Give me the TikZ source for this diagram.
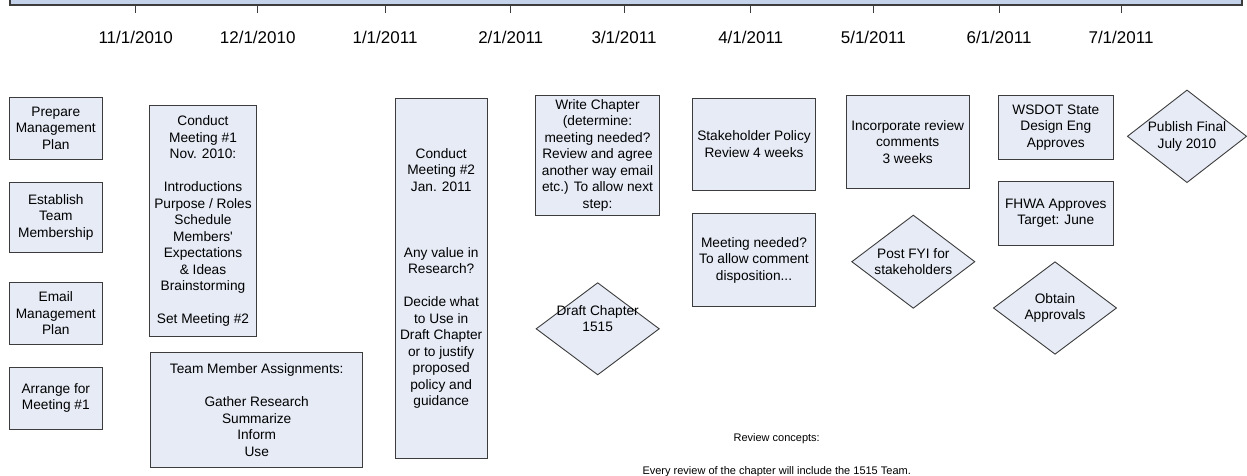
\documentclass[tikz,border=0pt]{standalone}
\usepackage{fontspec}
\setmainfont{Liberation Sans}
\usetikzlibrary{shapes.geometric}
\definecolor{boxfill}{RGB}{230,235,246}
\definecolor{boxline}{RGB}{60,60,60}
\definecolor{barside}{RGB}{196,211,233}
\definecolor{barmid}{RGB}{239,241,235}

\begin{document}
\begin{tikzpicture}[x=1pt,y=-1pt,
    task/.style={draw=boxline, line width=0.9pt, fill=boxfill, inner sep=0pt, align=center,
      font=\fontsize{13.7}{16.5}\selectfont},
    gate/.style={diamond, draw=boxline, line width=0.9pt, fill=boxfill, inner sep=0pt,
      minimum width=123.3, minimum height=92.6},
    gatetext/.style={align=center, font=\fontsize{13.7}{16.5}\selectfont},
    note/.style={anchor=base, font=\fontsize{11}{13}\selectfont}]
        \useasboundingbox (0,0) rectangle (1247,475);
        % timeline
        \draw[draw=boxline, line width=1.2pt, left color=barside, middle color=barmid, right color=barside] (10,-20) rectangle (1242,5);
        \foreach \x/\m/\y in {135.7/11/2010, 257.7/12/2010, 385/1/2011, 510.7/2/2011, 624/3/2011,
            750.7/4/2011, 873.3/5/2011, 999/6/2011, 1121/7/2011} {
            \draw[boxline, line width=1pt] (\x,5) -- (\x,13);
            \node[anchor=base, font=\fontsize{17}{20}\selectfont] (d\m) at (\x,43.3) {\m/1/\y};
        }
        % first column
        \node[task, minimum width=93, minimum height=62] (prep) at (55.8,128.3) {Prepare\\Management\\Plan};
        \node[task, minimum width=93, minimum height=70] (team) at (55.8,217.3) {Establish\\Team\\Membership};
        \node[task, minimum width=93, minimum height=61.6] (email) at (55.8,313.5) {Email\\Management\\Plan};
        \node[task, minimum width=93, minimum height=61.7] (arrange) at (55.8,398.2) {Arrange for\\Meeting \#1};
        % meetings
        \node[task, minimum width=107.4, minimum height=231] (meet1) at (203,221.2) {Conduct\\Meeting \#1\\Nov. 2010:\\[16.5pt]Introductions\\Purpose / Roles\\Schedule\\Members\textquotesingle\\Expectations\\\& Ideas\\Brainstorming\\[16.5pt]Set Meeting \#2};
        \node[task, minimum width=212, minimum height=115.4] (assign) at (256.7,410) {Team Member Assignments:\\[16.5pt]Gather Research\\Summarize\\Inform\\Use};
        \node[task, minimum width=92.3, minimum height=360.4] (meet2) at (441.2,278.5) {Conduct\\Meeting \#2\\Jan. 2011\\[49.5pt]Any value in\\Research?\\[16.5pt]Decide what\\to Use in\\Draft Chapter\\or to justify\\proposed\\policy and\\guidance};
        % drafting
        \node[task, minimum width=123.6, minimum height=119.3] (write) at (597.5,155.3) {Write Chapter\\(determine:\\meeting needed?\\Review and agree\\another way email\\etc.) To allow next\\step:};
        \node[gate, minimum width=123.3, minimum height=92.3, label={[gatetext, yshift=10pt]center:{Draft Chapter\\1515}}] (draft) at (597.7,328.8) {};
        % review
        \node[task, minimum width=123.4, minimum height=91.7] (policy) at (754,144.2) {Stakeholder Policy\\Review 4 weeks};
        \node[task, minimum width=123.4, minimum height=93.4] (dispo) at (754,260) {Meeting needed?\\To allow comment\\disposition...};
        \node[task, minimum width=123.3, minimum height=92.6] (incorp) at (907.7,142) {Incorporate review\\comments\\3 weeks};
        \node[gate, minimum height=93.3, label={[gatetext]center:{Post FYI for\\stakeholders}}] (fyi) at (913.3,261.7) {};
        % approvals
        \node[task, minimum width=115, minimum height=64.3] (wsdot) at (1055.8,127.2) {WSDOT State\\Design Eng\\Approves};
        \node[task, minimum width=115, minimum height=63.3] (fhwa) at (1055.8,213.3) {FHWA Approves\\Target: June};
        \node[gate, label={[gatetext]center:{Obtain\\Approvals}}] (obtain) at (1055,308) {};
        \node[gate, minimum width=119.4, minimum height=92.7, label={[gatetext]center:{Publish Final\\July 2010}}] (publish) at (1187,136.3) {};
        % notes
        \node[note] (concepts) at (776.7,441) {Review concepts:};
        \node[note] (every) at (776.7,474.6) {Every review of the chapter will include the 1515 Team.};
\end{tikzpicture}
\end{document}
